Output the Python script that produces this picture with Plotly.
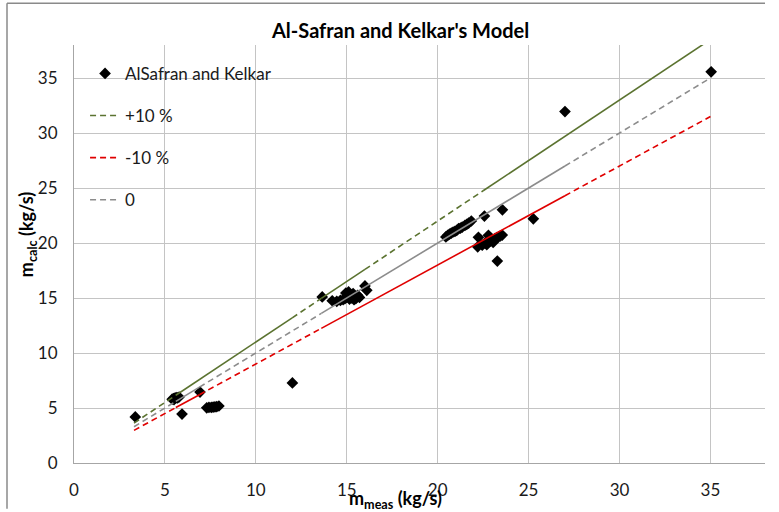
import plotly.graph_objects as go

# Measured vs. calculated mass flow rate (kg/s)
m_meas = [
    3.37,
    5.40, 5.48, 5.55, 5.62, 5.70, 5.78, 5.50,
    5.94, 6.93,
    7.30, 7.42, 7.55, 7.65, 7.75, 7.85, 7.97,
    12.01, 13.65,
    14.20, 14.45, 14.65, 14.80, 14.90, 15.00, 15.05, 15.10, 15.15, 15.25,
    15.30, 15.35, 15.40, 15.50, 15.55, 15.60, 15.70, 14.95, 16.00, 16.10,
    20.45, 20.55, 20.65, 20.75, 20.85, 20.95, 21.05, 21.15, 21.25, 21.35,
    21.50, 21.60, 21.70, 21.85,
    22.57, 23.56, 25.26, 22.24,
    22.20, 22.45, 22.60, 22.70, 22.80, 22.79, 22.90, 23.00, 23.05, 23.15,
    23.25, 23.35, 23.45, 23.55,
    23.28, 27.00, 35.04,
]
m_calc = [
    4.19,
    5.80, 5.85, 5.90, 5.95, 5.92, 6.00, 5.75,
    4.45, 6.45,
    5.02, 5.05, 5.05, 5.08, 5.10, 5.12, 5.18,
    7.28, 15.10,
    14.75, 14.70, 14.78, 14.85, 14.95, 15.05, 15.30, 15.55, 14.90, 15.00,
    15.20, 15.40, 14.85, 14.95, 15.10, 15.25, 15.05, 15.45, 16.10, 15.70,
    20.55, 20.70, 20.80, 20.90, 21.00, 21.05, 21.15, 21.30, 21.35, 21.45,
    21.60, 21.70, 21.80, 22.00,
    22.45, 23.02, 22.20, 20.52,
    19.65, 19.80, 20.00, 19.85, 20.10, 20.70, 20.20, 20.30, 20.05, 20.40,
    20.50, 20.55, 20.65, 20.72,
    18.36, 31.95, 35.56,
]

# Reference lines: knots along x and the deviation band of each line
line_x = [3.3, 5.6, 6.9, 12.0, 13.6, 16.0, 22.5, 27.0, 35.0]
band_names = ["+10 %", "-10 %", "0"]
band_factor = [1.10, 0.90, 1.00]
band_colors = ["#5b7330", "#e00000", "#8c8c8c"]
# dash style of each segment between consecutive knots
band_segments = [
    ["dash", "solid", "solid", "dash", "solid", "dash", "solid", "solid"],
    ["dash", "solid", "dash", "dash", "solid", "solid", "solid", "dash"],
    ["dash", "solid", "dash", "dash", "solid", "solid", "solid", "dash"],
]

x_ticks = [0, 5, 10, 15, 20, 25, 30, 35]
y_ticks = [0, 5, 10, 15, 20, 25, 30, 35]

FONT = "Lato, 'Open Sans', sans-serif"
DASH = "6px,4px"

fig = go.Figure()

fig.add_trace(go.Scatter(
    x=m_meas, y=m_calc, mode="markers", name="AlSafran and Kelkar",
    marker=dict(symbol="diamond", size=9, color="black"),
    legendgroup="data", legendrank=1,
))

for i, (name, k, color, segs) in enumerate(zip(band_names, band_factor, band_colors, band_segments)):
    # merge consecutive segments with the same dash style into one trace
    runs = []
    start = 0
    for j in range(1, len(segs) + 1):
        if j == len(segs) or segs[j] != segs[start]:
            runs.append((start, j, segs[start]))
            start = j
    legend_done = False
    for a, b, style in runs:
        xs = line_x[a:b + 1]
        ys = [k * v for v in xs]
        show = (style == "dash") and not legend_done
        if show:
            legend_done = True
        fig.add_trace(go.Scatter(
            x=xs, y=ys, mode="lines", name=name,
            line=dict(color=color, width=1.6, dash=DASH if style == "dash" else "solid"),
            legendgroup=name, showlegend=show, legendrank=i + 2,
            hoverinfo="skip",
        ))

axis_common = dict(
    range=[0, 38], showgrid=True, gridcolor="#c4c4c4", gridwidth=1,
    zeroline=False, showline=True, linecolor="#a6a6a6", linewidth=1,
    ticks="", tickfont=dict(family=FONT, size=17, color="#1a1a1a"),
    ticklabelstandoff=12,
)
fig.update_xaxes(tickvals=x_ticks, **axis_common)
fig.update_yaxes(tickvals=y_ticks, **axis_common)

# pixel -> paper coordinate helpers for the 691x421 plot area
W, H = 691.0, 421.0
def px(xp):
    return (xp - 74) / W
def py(yp):
    return (466 - yp) / H

fig.update_layout(
    width=779, height=512,
    margin=dict(l=74, r=14, t=45, b=46),
    paper_bgcolor="white", plot_bgcolor="white",
    font=dict(family=FONT, color="#1a1a1a"),
    showlegend=True,
    legend=dict(
        x=0.016, y=py(56), xanchor="left", yanchor="top",
        bgcolor="rgba(0,0,0,0)", borderwidth=0,
        font=dict(family=FONT, size=17, color="#1a1a1a"),
        tracegroupgap=17, itemwidth=30,
    ),
    annotations=[
        dict(text="<b>Al-Safran and Kelkar's Model</b>", x=px(400), y=py(16), xref="paper", yref="paper",
             showarrow=False, font=dict(family=FONT, size=20, color="#000000")),
        dict(text="<b>m<sub>meas</sub> (kg/s)</b>", x=px(395), y=py(517), xref="paper", yref="paper",
             yanchor="bottom", showarrow=False, font=dict(family=FONT, size=18, color="#000000")),
        dict(text="<b>m<sub>calc</sub> (kg/s)</b>", x=px(13), y=py(236), xref="paper", yref="paper",
             textangle=-90, showarrow=False, font=dict(family=FONT, size=18, color="#000000")),
    ],
)

# chart frame edges
fig.add_shape(type="line", xref="paper", yref="paper", x0=px(7), x1=px(765), y0=py(3), y1=py(3),
              line=dict(color="#8a8a8a", width=1.5))
fig.add_shape(type="line", xref="paper", yref="paper", x0=px(7), x1=px(7), y0=py(3), y1=py(512),
              line=dict(color="#8a8a8a", width=1.5))

fig.write_html("out.html")
